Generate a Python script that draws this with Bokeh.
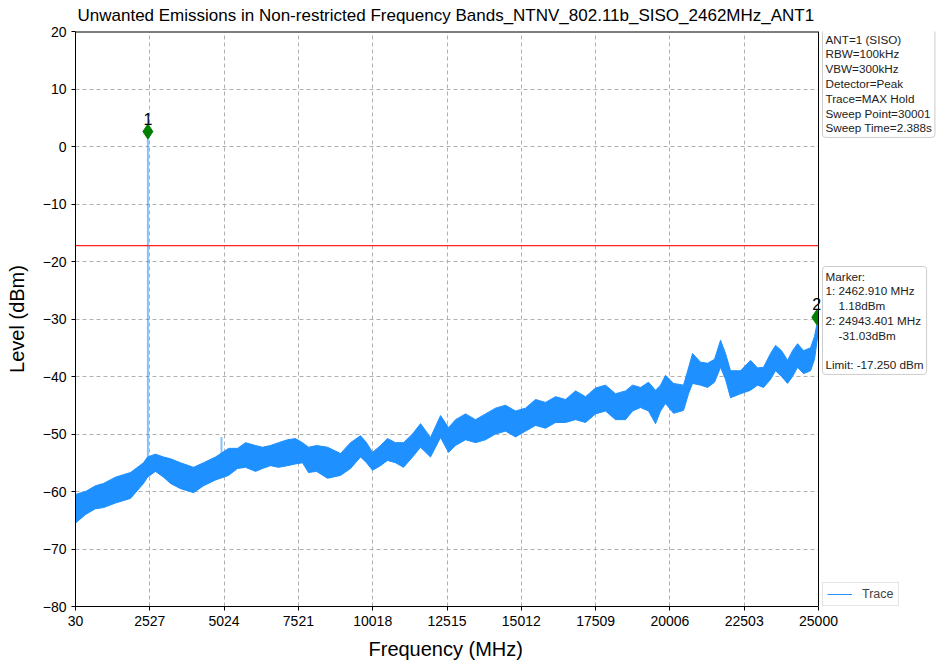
from bokeh.plotting import figure
from bokeh.models import (Range1d, FixedTicker, Span, Label, Legend, LegendItem, Title,
                          BoxAnnotation)
from bokeh.embed import file_html
from bokeh.resources import INLINE

# ---------------- data ----------------
freq_mhz = [30, 366, 702, 971, 1374, 1879, 2315, 2450, 2719, 2988, 3223, 3559, 3996, 4332,
            4735, 5172, 5475, 5744, 6080, 6315, 6584, 6853, 7155, 7424, 7659, 7861, 8130,
            8500, 8937, 9273, 9609, 9811, 10012, 10281, 10516, 10785, 11054, 11357, 11625,
            11961, 12298, 12567, 12802, 13138, 13474, 13810, 14146, 14482, 14818, 15154,
            15491, 15827, 16163, 16499, 16835, 17171, 17507, 17843, 18179, 18515, 18750,
            19019, 19288, 19523, 19691, 19859, 20128, 20464, 20632, 20767, 21036, 21271,
            21506, 21708, 21876, 22044, 22380, 22716, 22951, 23153, 23388, 23556, 23758,
            23960, 24128, 24296, 24498, 24733, 24867, 25000]
trace_max = [-60.5, -60.0, -59.0, -58.6, -57.5, -56.7, -55.0, -54.0, -53.5, -54.0, -54.3, -55.0,
             -55.8, -55.0, -54.0, -52.5, -52.5, -51.5, -52.0, -52.3, -52.0, -51.5, -51.0, -50.8,
             -51.5, -52.3, -52.0, -52.3, -53.4, -51.5, -50.3, -51.5, -53.2, -52.0, -50.8, -51.5,
             -51.5, -50.0, -48.2, -50.6, -46.8, -48.9, -47.5, -46.5, -47.5, -46.5, -45.5, -45.0,
             -46.0, -45.5, -44.0, -44.5, -43.5, -44.0, -42.5, -43.5, -42.0, -41.5, -43.0, -42.5,
             -41.5, -41.9, -41.0, -42.4, -41.5, -39.8, -41.2, -41.5, -38.5, -36.0, -37.5, -37.7,
             -37.0, -33.7, -36.0, -39.0, -39.0, -37.2, -38.5, -38.4, -36.0, -34.6, -35.5, -37.2,
             -35.5, -34.3, -35.5, -35.0, -33.0, -29.5]
trace_min = [-65.5, -64.0, -63.0, -62.8, -62.0, -61.2, -58.6, -57.5, -56.5, -57.5, -58.6, -59.5,
             -60.2, -59.0, -58.0, -57.2, -56.0, -55.8, -56.5, -56.0, -55.5, -55.8, -55.5, -55.2,
             -55.0, -56.7, -56.5, -57.7, -57.2, -56.0, -54.0, -55.0, -56.3, -55.5, -54.6, -55.0,
             -55.8, -54.0, -52.3, -54.0, -50.6, -53.2, -52.0, -51.0, -51.5, -51.0, -50.0, -49.5,
             -50.5, -49.5, -48.5, -49.0, -48.0, -48.0, -47.5, -48.0, -46.5, -46.0, -47.5, -47.5,
             -46.0, -45.4, -46.0, -48.2, -46.0, -44.7, -46.4, -45.9, -43.0, -41.2, -41.5, -41.9,
             -41.0, -38.4, -40.5, -43.7, -43.0, -42.4, -41.5, -41.9, -40.5, -39.0, -40.0, -41.2,
             -40.0, -38.4, -39.5, -39.0, -37.0, -32.0]

spike_freq = [2462.91, 4936.0]
spike_top = [2.6, -50.5]
spike_bottom = [-57.0, -55.5]

marker_freq = [2462.910, 24943.401]
marker_level = [2.6, -29.7]
marker_names = ["1", "2"]

limit_dbm = -17.25

x_ticks = [30, 2527, 5024, 7521, 10018, 12515, 15012, 17509, 20006, 22503, 25000]
x_tick_labels = ["30", "2527", "5024", "7521", "10018", "12515", "15012", "17509",
                 "20006", "22503", "25000"]
y_ticks = [-80, -70, -60, -50, -40, -30, -20, -10, 0, 10, 20]
y_tick_labels = ["\u221280", "\u221270", "\u221260", "\u221250", "\u221240", "\u221230",
                 "\u221220", "\u221210", "0", "10", "20"]

title_text = "Unwanted Emissions in Non-restricted Frequency Bands_NTNV_802.11b_SISO_2462MHz_ANT1"
x_label = "Frequency (MHz)"
y_label = "Level (dBm)"
NB = "\u00a0"
setup_text = "ANT=1 (SISO)\nRBW=100kHz\nVBW=300kHz\nDetector=Peak\nTrace=MAX Hold\nSweep Point=30001\nSweep Time=2.388s"
marker_text = ("Marker:\n1: 2462.910 MHz\n" + NB * 4 + "1.18dBm\n2: 24943.401 MHz\n"
               + NB * 4 + "-31.03dBm\n" + NB + "\nLimit: -17.250 dBm")
legend_label = "Trace"

FONT = "Liberation Sans"
TRACE = "#1E90FF"

# ---------------- layout geometry (pixels) ----------------
W, H = 936, 670
FRAME_L, DATA_R, FRAME_T, FRAME_B = 75, 818, 31, 606
mhz_per_px = (x_ticks[-1] - x_ticks[0]) / (DATA_R - FRAME_L)
x_end = x_ticks[-1] + (W - DATA_R) * mhz_per_px

p = figure(width=W, height=H, output_backend="svg", toolbar_location=None,
           x_range=Range1d(x_ticks[0], x_end), y_range=Range1d(y_ticks[0], y_ticks[-1]),
           min_border_left=FRAME_L, min_border_right=0, min_border_top=FRAME_T,
           min_border_bottom=H - FRAME_B)
p.title = Title(text=title_text, align="left", offset=2, text_font=FONT,
                text_font_size="17px", text_font_style="normal", text_color="black",
                vertical_align="top", standoff=9)

p.outline_line_color = None
p.background_fill_color = "white"
p.border_fill_color = "white"

for g in (p.xgrid, p.ygrid):
    g.grid_line_color = "#b0b0b0"
    g.grid_line_dash = "4 3"
    g.grid_line_width = 1

p.xaxis.ticker = FixedTicker(ticks=x_ticks)
p.yaxis.ticker = FixedTicker(ticks=y_ticks)
p.xaxis.bounds = (x_ticks[0], x_ticks[-1])
p.xaxis.major_label_overrides = dict(zip(x_ticks, x_tick_labels))
p.yaxis.major_label_overrides = dict(zip(y_ticks, y_tick_labels))
p.yaxis.axis_label = y_label
for ax in (p.xaxis, p.yaxis):
    ax.axis_line_color = "black"
    ax.major_tick_line_color = "black"
    ax.major_tick_out = 4
    ax.major_tick_in = 0
    ax.minor_tick_line_color = None
    ax.major_label_text_font = FONT
    ax.major_label_text_font_size = "14px"
    ax.major_label_text_color = "black"
    ax.axis_label_text_font = FONT
    ax.axis_label_text_font_size = "20px"
    ax.axis_label_text_font_style = "normal"
    ax.axis_label_text_color = "black"
    ax.major_label_standoff = 5
p.yaxis.axis_label_standoff = 12

# x-axis title centred under the data area (not under the whole frame)
p.add_layout(Title(text=x_label, align="left", offset=293, text_font=FONT,
                   text_font_size="20px", text_font_style="normal", text_color="black",
                   standoff=15), "below")

# trace envelope
p.varea(x=freq_mhz, y1=trace_min, y2=trace_max, fill_color=TRACE, fill_alpha=1.0)
line_hi = p.line(freq_mhz, trace_max, line_color=TRACE, line_width=1)
p.line(freq_mhz, trace_min, line_color=TRACE, line_width=1)
p.segment(x0=spike_freq, y0=spike_bottom, x1=spike_freq, y1=spike_top,
          line_color=TRACE, line_width=2, line_alpha=0.55)

# limit line (across the data area only)
p.segment(x0=[x_ticks[0]], y0=[limit_dbm], x1=[x_ticks[-1]], y1=[limit_dbm],
          line_color="#ff2020", line_width=1.3)

# top edge of the axes box
p.segment(x0=[x_ticks[0]], y0=[y_ticks[-1]], x1=[x_ticks[-1]], y1=[y_ticks[-1]],
          line_color="black", line_width=2)

# markers
p.scatter(marker_freq, marker_level, marker="diamond", size=15,
          fill_color="#008000", line_color="#008000")

# blank out everything right of the data area, then draw the right edge
p.add_layout(BoxAnnotation(left=x_ticks[-1], fill_color="white", fill_alpha=1.0,
                           line_color=None))
p.add_layout(Span(location=x_ticks[-1], dimension="height", line_color="black", line_width=1))

for f, lv, name in zip(marker_freq, marker_level, marker_names):
    p.add_layout(Label(x=f, y=lv, text=name, y_offset=7, text_align="center",
                       text_baseline="bottom", text_font=FONT, text_font_size="16px",
                       text_color="black"))

# info boxes (screen units relative to the frame's bottom-left)
for txt, box_top in ((setup_text, 29), (marker_text, 266)):
    p.add_layout(Label(x=822 - FRAME_L, y=FRAME_B - box_top, x_units="screen",
                       y_units="screen", text=txt, text_align="left", text_baseline="top",
                       text_font=FONT, text_font_size="11.7px", text_color="#222222",
                       text_line_height=1.14, background_fill_color="white",
                       border_line_color="#cccccc", border_line_width=1, padding=3,
                       border_radius=3))

legend = Legend(items=[LegendItem(label=legend_label, renderers=[line_hi])],
                location=(822 - FRAME_L, 0),
                label_text_font=FONT, label_text_font_size="12.5px", glyph_width=25,
                glyph_height=12, padding=4, spacing=0, margin=0, label_standoff=10,
                border_line_color="#cccccc", border_line_width=1, background_fill_alpha=1.0)
p.add_layout(legend)

open("out.html", "w").write(file_html(p, INLINE))
